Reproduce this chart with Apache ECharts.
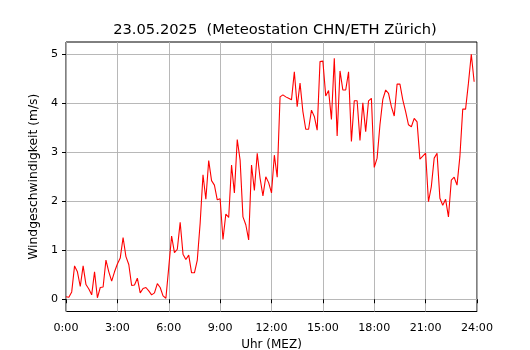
<!DOCTYPE html>
<html>
<head>
<meta charset="utf-8">
<script src="https://cdn.jsdelivr.net/npm/echarts@6/dist/echarts.min.js"></script>
<style>
  html, body { margin: 0; padding: 0; background: #fff; }
  #chart { width: 530px; height: 350px; }
</style>
</head>
<body>
<div id="chart"></div>
<script>
// wind speed, one value per 10 minutes from 0:00 to 23:50 (m/s)
var stepMinutes = 10;
var windSpeed = [
    0.05, 0.04, 0.15, 0.68, 0.56, 0.26, 0.68, 0.30, 0.21, 0.09, 0.56, 0.03,
    0.24, 0.25, 0.80, 0.56, 0.37, 0.56, 0.72, 0.84, 1.26, 0.87, 0.71, 0.28,
    0.29, 0.43, 0.13, 0.22, 0.24, 0.17, 0.09, 0.13, 0.32, 0.24, 0.07, 0.02,
    0.65, 1.29, 0.95, 1.02, 1.57, 0.92, 0.81, 0.90, 0.54, 0.54, 0.80, 1.55,
    2.54, 2.04, 2.83, 2.42, 2.33, 2.03, 2.05, 1.22, 1.74, 1.67, 2.74, 2.17,
    3.26, 2.84, 1.68, 1.52, 1.21, 2.74, 2.22, 2.98, 2.47, 2.11, 2.50, 2.38,
    2.17, 2.94, 2.49, 4.13, 4.17, 4.13, 4.10, 4.07, 4.64, 3.93, 4.41, 3.83,
    3.47, 3.47, 3.86, 3.73, 3.45, 4.85, 4.86, 4.15, 4.26, 3.67, 4.92, 3.33,
    4.66, 4.27, 4.27, 4.64, 3.22, 4.05, 4.05, 3.24, 4.01, 3.42, 4.05, 4.10,
    2.69, 2.88, 3.56, 4.08, 4.27, 4.20, 3.93, 3.74, 4.39, 4.39, 4.07, 3.83,
    3.56, 3.52, 3.69, 3.62, 2.86, 2.92, 2.98, 1.99, 2.30, 2.88, 2.98, 2.06,
    1.92, 2.04, 1.68, 2.43, 2.49, 2.33, 2.91, 3.88, 3.88, 4.41, 5.00, 4.44
];
var yTicks = [0, 1, 2, 3, 4, 5];

var points = windSpeed.map(function (v, i) {
    return [i * stepMinutes / 60, v];
});

var chart = echarts.init(document.getElementById('chart'));
var font = 'DejaVu Sans';

var option = {
    animation: false,
    backgroundColor: '#fff',
    title: {
        text: '23.05.2025  (Meteostation CHN/ETH Zürich)',
        left: 270,
        textAlign: 'center',
        top: 18,
        textStyle: { fontFamily: font, fontSize: 14.7, fontWeight: 'normal', color: '#000' }
    },
    grid: {
        left: 66, right: 53, top: 42, bottom: 38.5,
        show: true, borderColor: '#000', borderWidth: 1,
        containLabel: false,
        outerBoundsMode: 'none'
    },
    xAxis: {
        type: 'value',
        min: 0, max: 24, interval: 3,
        name: 'Uhr (MEZ)',
        nameLocation: 'middle',
        nameGap: 27,
        nameTextStyle: { fontFamily: font, fontSize: 12, color: '#000' },
        axisLine: { show: false },
        axisTick: { show: true, length: 4, lineStyle: { color: '#000' } },
        axisLabel: {
            fontFamily: font, fontSize: 11.1, color: '#000', margin: 11,
            formatter: function (v) { return v + ':00'; },
            showMinLabel: true, showMaxLabel: true
        },
        splitLine: { show: true, lineStyle: { color: '#b0b0b0', width: 0.9 } }
    },
    yAxis: {
        type: 'value',
        min: -0.25, max: 5.25,
        name: 'Windgeschwindigkeit (m/s)',
        nameLocation: 'middle',
        nameGap: 25,
        nameTextStyle: { fontFamily: font, fontSize: 12.3, color: '#000' },
        axisLine: { show: false },
        axisTick: { show: true, length: 4, lineStyle: { color: '#000' }, customValues: yTicks },
        axisLabel: { fontFamily: font, fontSize: 11.1, color: '#000', margin: 8, customValues: yTicks },
        splitLine: { show: true, lineStyle: { color: '#b0b0b0', width: 0.9 } }
    },
    series: [
        {
            type: 'line',
            data: points,
            showSymbol: false,
            lineStyle: { color: '#ff0000', width: 1.1 },
            itemStyle: { color: '#ff0000' }
        }
    ]
};

chart.setOption(option);
</script>
</body>
</html>
